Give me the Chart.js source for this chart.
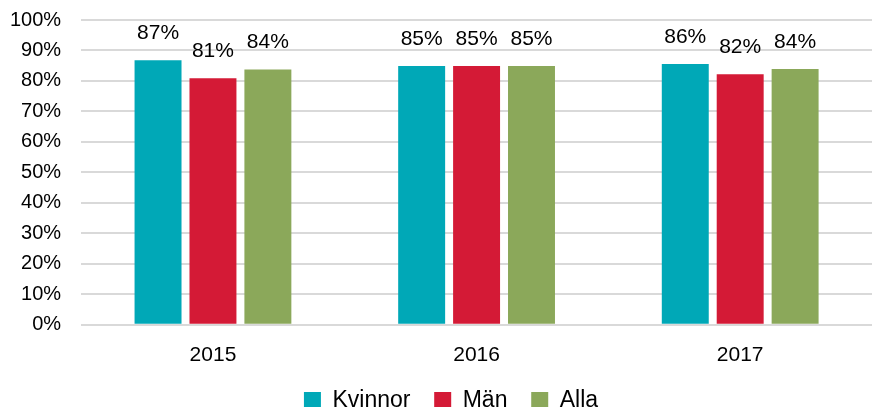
<!DOCTYPE html>
<html>
<head>
<meta charset="utf-8">
<script src="https://cdn.jsdelivr.net/npm/chart.js@4.4.0/dist/chart.umd.min.js"></script>
<style>
  html, body { margin: 0; padding: 0; background: #ffffff; }
  #wrap { width: 872px; height: 407px; }
</style>
</head>
<body>
<div id="wrap"><canvas id="grafico"></canvas></div>
<script>
const years = ['2015', '2016', '2017'];
const kvinnor = [86.8, 84.9, 85.6];
const man = [80.9, 84.9, 82.2];
const alla = [83.8, 84.9, 83.9];
const seriesNames = ['Kvinnor', 'Män', 'Alla'];
const seriesColors = ['#00a8b7', '#d41a36', '#8ba85a'];

const fam = '"Liberation Sans", Arial, sans-serif';

const valueLabels = {
    id: 'valueLabels',
    afterDatasetsDraw(chart) {
        const ctx = chart.ctx;
        ctx.save();
        ctx.font = '21px ' + fam;
        ctx.fillStyle = '#000000';
        ctx.textAlign = 'center';
        ctx.textBaseline = 'middle';
        chart.data.datasets.forEach((ds, i) => {
            chart.getDatasetMeta(i).data.forEach((bar, j) => {
                ctx.fillText(Math.round(ds.data[j]) + '%', bar.x, bar.y - 27);
            });
        });
        ctx.restore();
    }
};

// legend in the original sits a bit right of centre
const legendShift = {
    id: 'legendShift',
    afterLayout(chart) {
        chart.legend.left += 20;
        chart.legend.right += 20;
    }
};

const ctx = document.getElementById('grafico').getContext('2d');
new Chart(ctx, {
    type: 'bar',
    data: {
        labels: years,
        datasets: [kvinnor, man, alla].map((d, i) => ({
            label: seriesNames[i],
            data: d,
            backgroundColor: seriesColors[i],
            categoryPercentage: 0.625,
            barPercentage: 0.855
        }))
    },
    options: {
        responsive: true,
        maintainAspectRatio: false,
        animation: false,
        layout: { padding: { left: -10, right: 0, top: 20, bottom: -15 } },
        plugins: {
            tooltip: { enabled: false },
            legend: {
                position: 'bottom',
                labels: {
                    boxWidth: 17,
                    boxHeight: 17,
                    padding: 11,
                    color: '#000000',
                    font: { size: 23, family: fam },
                    generateLabels(chart) {
                        // extra spaces give the wider gap between legend items
                        const items = Chart.defaults.plugins.legend.labels.generateLabels(chart);
                        items.forEach((it, i) => {
                            if (i < items.length - 1) it.text = it.text + '  ';
                        });
                        return items;
                    }
                }
            }
        },
        scales: {
            x: {
                grid: { display: false },
                border: { display: false },
                ticks: {
                    color: '#000000',
                    padding: 10,
                    font: { size: 21, family: fam }
                }
            },
            y: {
                min: 0,
                max: 100,
                border: { display: false },
                grid: { color: '#d9d9d9', lineWidth: 2, drawTicks: false },
                afterFit(scale) {
                    scale.paddingTop = 0;
                },
                ticks: {
                    stepSize: 10,
                    autoSkip: false,
                    color: '#000000',
                    padding: 20,
                    font: { size: 20, family: fam },
                    callback: v => v + '%'
                }
            }
        }
    },
    plugins: [valueLabels, legendShift]
});
</script>
</body>
</html>
